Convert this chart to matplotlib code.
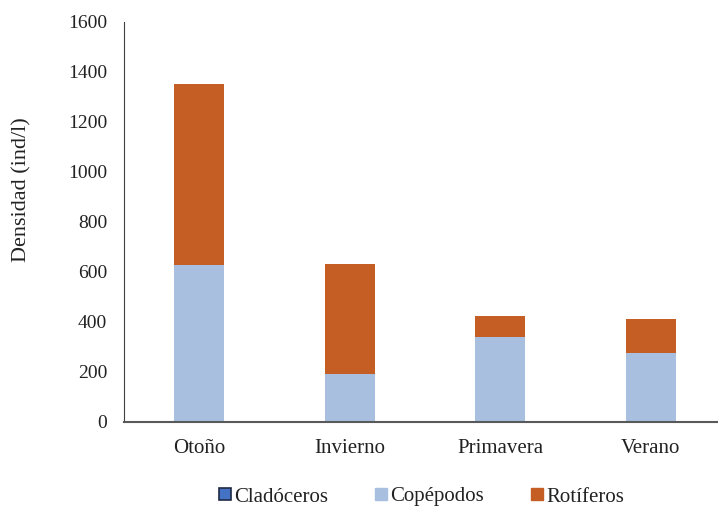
import numpy as np
import matplotlib.pyplot as plt
from matplotlib.patches import Patch

# densidad por estación (ind/l)
estaciones = ["Otoño", "Invierno", "Primavera", "Verano"]
grupos = ["Cladóceros", "Copépodos", "Rotíferos"]
cladoceros = [0, 0, 0, 0]
copepodos = [628, 192, 340, 276]
rotiferos = [722, 440, 86, 136]

c_clad = "#4472C4"
c_cope = "#A8BFE0"
c_roti = "#C55E24"

serif = ["Liberation Serif", "DejaVu Serif"]
plt.rcParams["font.family"] = serif

fig = plt.figure(figsize=(7.18, 5.08), dpi=100)
# eje algo más ancho que la figura: la última categoría queda casi en el borde
ax = fig.add_axes([124/718, 86/508, 602/718, 400/508])

x = np.arange(len(estaciones))
w = 1/3
ax.bar(x, cladoceros, w, color=c_clad)
ax.bar(x, copepodos, w, bottom=cladoceros, color=c_cope)
base = np.array(cladoceros) + np.array(copepodos)
ax.bar(x, rotiferos, w, bottom=base, color=c_roti)

ax.set_xlim(-0.5, 3.5)
ax.set_ylim(0, 1600)
ax.set_yticks(range(0, 1601, 200))
ax.set_xticks(x)
ax.set_xticklabels(estaciones)
ax.tick_params(axis="both", length=0, colors="#222222")
ax.tick_params(axis="y", pad=12, labelsize=14)
ax.tick_params(axis="x", pad=12, labelsize=15)

for s in ["top", "right"]:
    ax.spines[s].set_visible(False)
ax.spines["left"].set_color("#404040")
ax.spines["bottom"].set_color("#595959")
ax.spines["bottom"].set_linewidth(1.5)

ax.set_ylabel("Densidad (ind/l)", fontsize=16, color="#222222")
ax.yaxis.set_label_coords(-0.1545, 0.58)

handles = [Patch(facecolor=c_clad, edgecolor="#1F2A44", linewidth=1.2),
           Patch(facecolor=c_cope, edgecolor=c_cope),
           Patch(facecolor=c_roti, edgecolor=c_roti)]
fig.legend(handles, grupos, loc="center",
           bbox_to_anchor=(421.5/718, 1 - 497/508), ncol=3,
           frameon=False, prop={"family": serif, "size": 15},
           handlelength=0.55, handleheight=0.55, handletextpad=0.15,
           columnspacing=2.29, borderpad=0, borderaxespad=0,
           labelcolor="#222222")

fig.savefig("out.png", dpi=100)
